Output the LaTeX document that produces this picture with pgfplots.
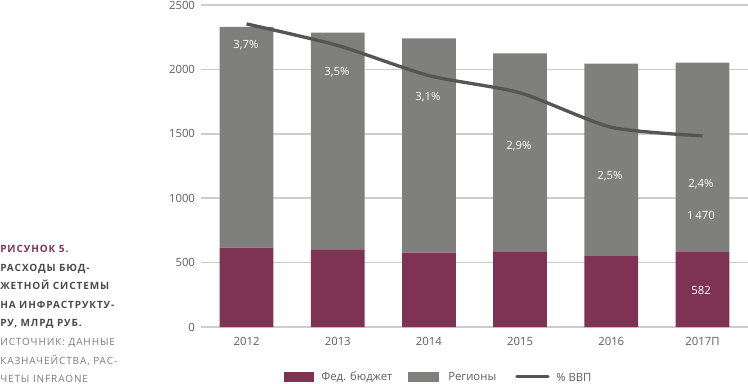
\documentclass[border=0pt]{standalone}
\usepackage{pgfplots}
\pgfplotsset{compat=1.18}
\usepackage{fontspec}
\setmainfont{Open Sans}
\newfontfamily\capfont[LetterSpace=9]{Open Sans}
\definecolor{maroon}{HTML}{7F3353}
\definecolor{bargray}{HTML}{7F7F7D}
\definecolor{linegray}{HTML}{555555}
\definecolor{gridgray}{HTML}{CDCDCD}
\definecolor{txtgray}{HTML}{5E5E5E}
\definecolor{capgray}{HTML}{4A4A4A}
\definecolor{srcgray}{HTML}{7A7A7A}
\pgfplotstableread{
x fed reg
0 616 1714
1 598 1687
2 577 1663
3 588 1537
4 551 1494
5 582 1470
}\budget
\pgfplotstableread{
x gdp
0 3.7
1 3.45
2 3.1
3 2.9
4 2.5
5 2.4
}\gdp
\def\u{0.75pt}
\begin{document}
\begin{tikzpicture}
\begin{axis}[
  at={({201*\u},{-327*\u})}, anchor=south west,
  scale only axis, width={547*\u}, height={322*\u},
  xmin=-0.5, xmax=5.5, ymin=0, ymax=2500,
  ybar stacked, bar width=0.59,
  axis line style={draw=none}, tick style={draw=none},
  ytick={0,500,1000,1500,2000,2500},
  ymajorgrids, grid style={gridgray, line width=1.2pt},
  xtick={0,1,2,3,4,5},
  xticklabels={2012,2013,2014,2015,2016,2017П},
  ticklabel style={font=\fontsize{8.5}{10}\selectfont, text=txtgray},
  /pgf/number format/assume math mode=true,
  /pgf/number format/1000 sep={},
  yticklabel style={xshift=-1pt},
  xticklabel style={yshift=-4pt},
  clip=false,
]
\addplot[fill=maroon, draw=none] table[x=x,y=fed] {\budget};
\addplot[fill=bargray, draw=none] table[x=x,y=reg] {\budget};
\end{axis}
\begin{axis}[
  at={({201*\u},{-327*\u})}, anchor=south west,
  scale only axis, width={547*\u}, height={322*\u},
  xmin=-0.5, xmax=5.5, ymin=0.18, ymax=3.92,
  hide axis, clip=false,
]
\addplot[linegray, line width=2.5pt, smooth, tension=0.4] table[x=x,y=gdp] {\gdp};
\end{axis}
% data labels (pixel positions)
\begin{scope}[every node/.style={text=white, font=\fontsize{8.5}{10}\selectfont}]
\node at ({246*\u},{-45*\u}) {3,7\%};
\node at ({337*\u},{-72*\u}) {3,5\%};
\node at ({428*\u},{-97*\u}) {3,1\%};
\node at ({519*\u},{-146*\u}) {2,9\%};
\node at ({610*\u},{-176*\u}) {2,5\%};
\node at ({701*\u},{-184*\u}) {2,4\%};
\node at ({701*\u},{-215*\u}) {1\,470};
\node at ({701*\u},{-290*\u}) {582};
\end{scope}
% legend
\fill[maroon] ({284*\u},{-372*\u}) rectangle ({314*\u},{-382*\u});
\node[anchor=west, inner sep=0, text=txtgray, font=\fontsize{8.5}{10}\selectfont] at ({321*\u},{-377*\u}) {Фед. бюджет};
\fill[bargray] ({408*\u},{-372*\u}) rectangle ({439*\u},{-382*\u});
\node[anchor=west, inner sep=0, text=txtgray, font=\fontsize{8.5}{10}\selectfont] at ({448*\u},{-377*\u}) {Регионы};
\draw[linegray, line width=2.5pt, line cap=round] ({517*\u},{-376.5*\u}) -- ({548*\u},{-376.5*\u});
\node[anchor=west, inner sep=0, text=txtgray, font=\fontsize{8.5}{10}\selectfont] at ({556*\u},{-377*\u}) {\% ВВП};
% caption
\begin{scope}[every node/.style={anchor=base west, inner sep=0, font=\capfont\fontsize{7.5}{9}\selectfont}]
\node[text=maroon, font=\capfont\bfseries\fontsize{7.5}{9}\selectfont] at (0,{-252.5*\u}) {РИСУНОК 5.};
\node[text=capgray, font=\capfont\bfseries\fontsize{7.5}{9}\selectfont] at (0,{-271.1*\u}) {РАСХОДЫ БЮД-};
\node[text=capgray, font=\capfont\bfseries\fontsize{7.5}{9}\selectfont] at (0,{-289.7*\u}) {ЖЕТНОЙ СИСТЕМЫ};
\node[text=capgray, font=\capfont\bfseries\fontsize{7.5}{9}\selectfont] at (0,{-308.3*\u}) {НА ИНФРАСТРУКТУ-};
\node[text=capgray, font=\capfont\bfseries\fontsize{7.5}{9}\selectfont] at (0,{-326.9*\u}) {РУ, МЛРД РУБ.};
\node[text=srcgray] at (0,{-345.5*\u}) {ИСТОЧНИК: ДАННЫЕ};
\node[text=srcgray] at (0,{-364.1*\u}) {КАЗНАЧЕЙСТВА, РАС-};
\node[text=srcgray] at (0,{-382.7*\u}) {ЧЕТЫ INFRAONE};
\end{scope}
\pgfresetboundingbox
\path ({0*\u},{0*\u}) rectangle ({748*\u},{-384*\u});
\end{tikzpicture}
\end{document}
